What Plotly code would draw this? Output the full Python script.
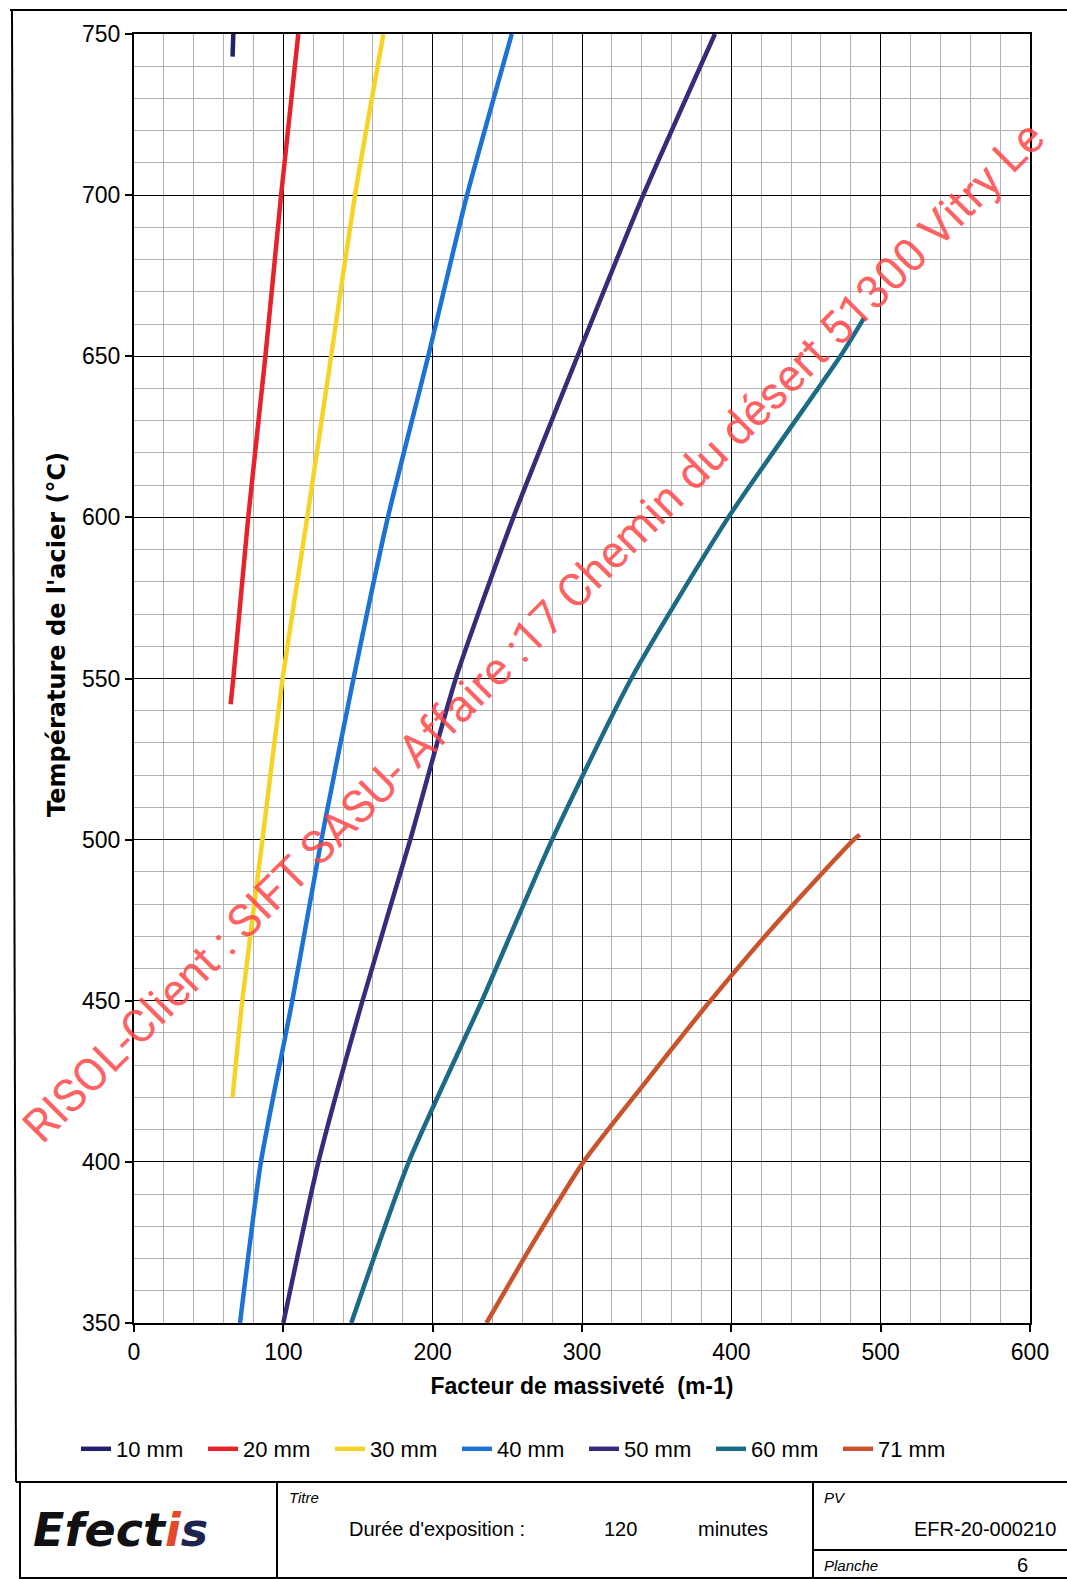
import plotly.graph_objects as go

# ---------------- data ----------------
series_names = ["10 mm", "20 mm", "30 mm", "40 mm", "50 mm", "60 mm", "71 mm"]

temp_10 = [743, 750]
fm_10 = [66, 66.5]

temp_20 = [542, 550, 600, 650, 700, 750]
fm_20 = [64.7, 66.5, 76.5, 88, 98.5, 110]

temp_30 = [420, 450, 500, 550, 600, 650, 700, 750]
fm_30 = [66, 72.5, 86, 99.5, 116, 132, 148, 167]

temp_40 = [350, 400, 450, 500, 550, 600, 650, 700, 750]
fm_40 = [71, 85, 106, 125.5, 147, 170, 197, 223, 253]

temp_50 = [350, 400, 450, 500, 550, 600, 650, 700, 750]
fm_50 = [100, 123.5, 153, 185, 215.5, 254, 297, 341, 389]

temp_60 = [350, 400, 450, 500, 550, 600, 650, 662]
fm_60 = [145.5, 184, 233, 280, 333, 398, 473, 489]

temp_71 = [350, 375, 400, 425, 450, 475, 500, 501.5]
fm_71 = [236, 267.5, 301, 343, 386, 432, 482, 486]

x_ticks = [0, 100, 200, 300, 400, 500, 600]
y_ticks = [350, 400, 450, 500, 550, 600, 650, 700, 750]

colors = ["#23216e", "#e8222b", "#f7d325", "#1d72d6", "#352c7c", "#1b6a86", "#c9542b"]

x_title = "Facteur de massiveté  (m-1)"
y_title = "Température de l'acier (°C)"

# ---------------- figure ----------------
W, H = 1067, 1579
L, R, T, B = 134, 37, 34, 256
PW, PH = W - L - R, H - T - B


def px(x):
    return (x - L) / PW


def py(y):
    return (T + PH - y) / PH


fig = go.Figure()
all_x = [fm_10, fm_20, fm_30, fm_40, fm_50, fm_60, fm_71]
all_y = [temp_10, temp_20, temp_30, temp_40, temp_50, temp_60, temp_71]
for name, xs, ys, c in zip(series_names, all_x, all_y, colors):
    fig.add_trace(go.Scatter(
        x=xs, y=ys, mode="lines", name=name,
        line=dict(color=c, width=4.5, shape="spline", smoothing=0.6),
    ))

base_font = "Liberation Sans, Arial, sans-serif"

fig.update_layout(
    width=W, height=H,
    margin=dict(l=L, r=R, t=T, b=B),
    paper_bgcolor="white", plot_bgcolor="white",
    font=dict(family=base_font, color="black"),
    showlegend=True,
    legend=dict(
        orientation="h", x=px(76), xanchor="left", y=py(1449), yanchor="middle",
        font=dict(size=22, family=base_font, color="black"),
        entrywidth=82, entrywidthmode="pixels",
        bgcolor="rgba(0,0,0,0)",
    ),
    xaxis=dict(
        range=[0, 600], tickvals=x_ticks, showgrid=True, gridcolor="black", gridwidth=1.3,
        minor=dict(dtick=20, showgrid=True, gridcolor="#b2b2b2", gridwidth=1),
        showline=True, mirror=True, linecolor="black", linewidth=2, zeroline=False,
        ticks="outside", ticklen=7, tickcolor="black", tickwidth=1.5,
        tickfont=dict(size=23, family=base_font),
        title=dict(text="<b>" + x_title + "</b>", font=dict(size=23, family=base_font), standoff=14),
    ),
    yaxis=dict(
        range=[350, 750], tickvals=y_ticks, showgrid=True, gridcolor="black", gridwidth=1.3,
        minor=dict(dtick=10, showgrid=True, gridcolor="#b2b2b2", gridwidth=1),
        showline=True, mirror=True, linecolor="black", linewidth=2, zeroline=False,
        ticks="outside", ticklen=7, tickcolor="black", tickwidth=1.5,
        tickfont=dict(size=23, family=base_font),
    ),
)

# y axis title placed like the reference (above the plot centre)
fig.add_annotation(
    text="<b>" + y_title + "</b>", xref="paper", yref="paper", x=px(57), y=py(635),
    xanchor="center", yanchor="middle", textangle=-90, showarrow=False,
    font=dict(size=24, family="DejaVu Sans, sans-serif", color="black"),
)

# ---------------- page frame and title block ----------------
line_style = dict(color="black", width=2)
frame_lines = [
    (10, 10, 1067, 10),      # top
    (12, 10, 16, 1482),      # left
    (16, 1482, 1067, 1482),  # bottom of chart frame / top of table
    (20, 1482, 20, 1579),    # table left
    (277, 1482, 277, 1579),  # logo | titre
    (813, 1482, 813, 1579),  # titre | PV
    (813, 1550, 1067, 1550), # PV | Planche
    (20, 1578, 1067, 1578),  # table bottom
]
for x0, y0, x1, y1 in frame_lines:
    fig.add_shape(type="line", xref="paper", yref="paper",
                  x0=px(x0), y0=py(y0), x1=px(x1), y1=py(y1), line=line_style)


def note(text, x, y, size, xanchor="left", italic=False, bold=False, color="black", family=base_font):
    t = text
    if bold:
        t = "<b>" + t + "</b>"
    if italic:
        t = "<i>" + t + "</i>"
    fig.add_annotation(text=t, xref="paper", yref="paper", x=px(x), y=py(y),
                       xanchor=xanchor, yanchor="middle", showarrow=False,
                       font=dict(size=size, color=color, family=family))


note("Titre", 287, 1497, 15, italic=True)
note("Durée d'exposition :", 437, 1529, 20, xanchor="center")
note("120", 620, 1529, 20, xanchor="center")
note("minutes", 733, 1529, 20, xanchor="center")
note("PV", 822, 1497, 15, italic=True)
note("EFR-20-000210", 1058, 1529, 20, xanchor="right")
note("Planche", 822, 1565, 15, italic=True)
note("6", 1022, 1565, 20, xanchor="center")

# logo
fig.add_annotation(
    text="<b><i>Efect<span style='color:#e4492a'>i</span><span style='color:#1d2450'>s</span></i></b>",
    xref="paper", yref="paper", x=px(120), y=py(1530), xanchor="center", yanchor="middle",
    showarrow=False, font=dict(size=46, color="#111111", family="DejaVu Sans, sans-serif"),
)

# watermark
fig.add_annotation(
    text="RISOL-Client : SIFT SASU- Affaire :17 Chemin du désert 51300 Vitry Le",
    xref="paper", yref="paper", x=px(533), y=py(632), xanchor="center", yanchor="middle",
    textangle=-45, showarrow=False,
    font=dict(size=46, color="rgba(255,70,70,0.85)", family="Roboto, sans-serif"),
)

fig.write_html("out.html")
